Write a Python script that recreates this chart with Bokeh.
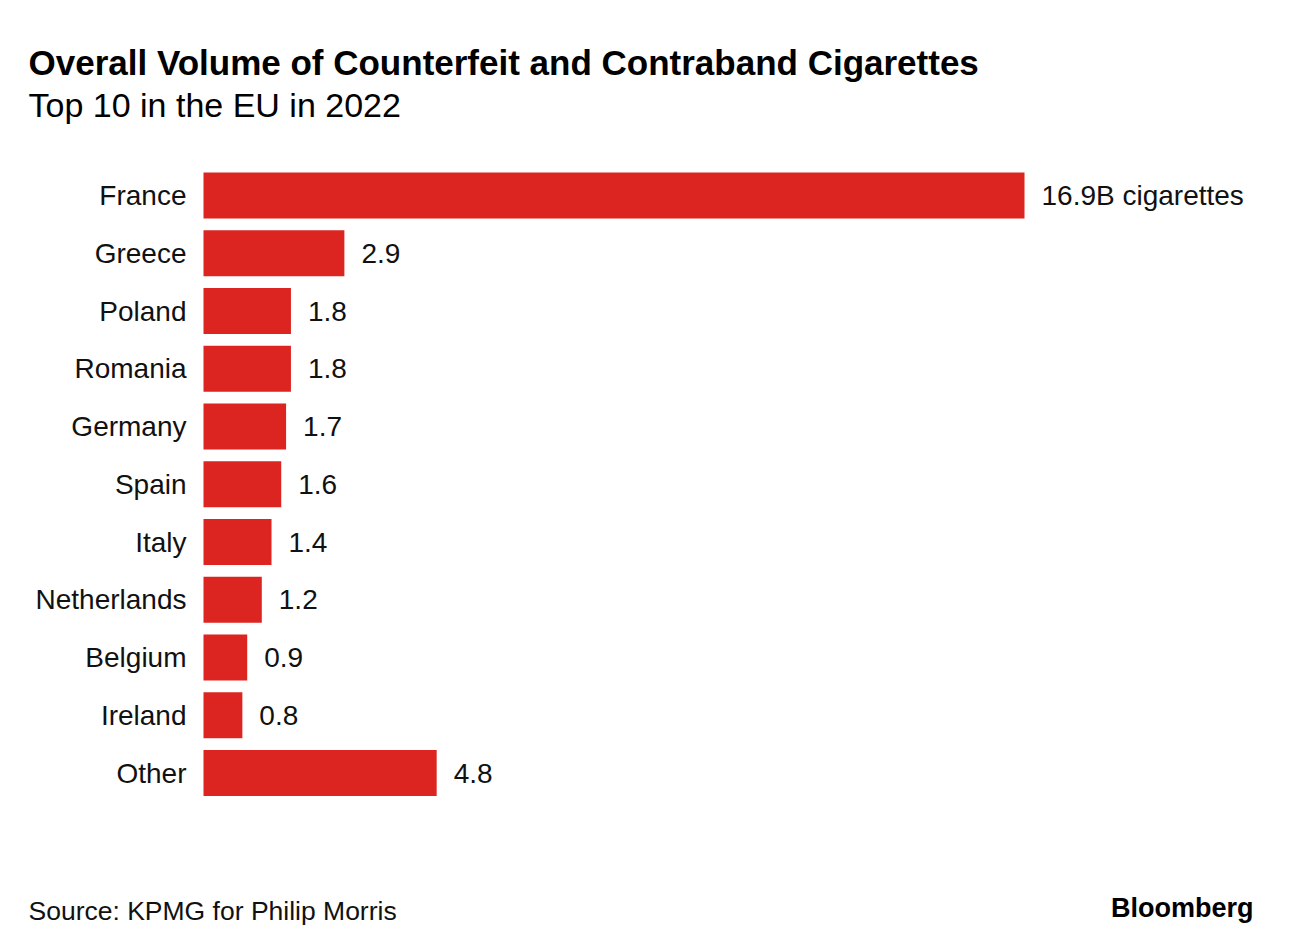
from bokeh.plotting import figure
from bokeh.models import ColumnDataSource, Range1d, Label
from bokeh.core.properties import value
from bokeh.embed import file_html
from bokeh.resources import INLINE

# Counterfeit and contraband cigarette volume, billions, 2022
countries = ["France", "Greece", "Poland", "Romania", "Germany", "Spain",
             "Italy", "Netherlands", "Belgium", "Ireland", "Other"]
volumes = [16.9, 2.9, 1.8, 1.8, 1.7, 1.6, 1.4, 1.2, 0.9, 0.8, 4.8]
value_labels = ["16.9B cigarettes", "2.9", "1.8", "1.8", "1.7", "1.6",
                "1.4", "1.2", "0.9", "0.8", "4.8"]

title_text = "Overall Volume of Counterfeit and Contraband Cigarettes"
subtitle_text = "Top 10 in the EU in 2022"
source_text = "Source: KPMG for Philip Morris"

W, H = 1293, 952
BAR_RED = "#dc2520"
FONT = "Liberation Sans"

# one row per country, France on top
rows = list(range(len(countries)))
src = ColumnDataSource(dict(row=rows, vol=volumes, name=countries, lab=value_labels))

# ranges chosen so the frame spans the whole page: value 0 sits at x=203px,
# rows are 57.75px apart starting at y=196px
px_per_unit = 821 / 16.9
x_range = Range1d(-203 / px_per_unit, (W - 203) / px_per_unit)
pitch = 57.75
y_range = Range1d((H - 195) / pitch, -195 / pitch)

p = figure(width=W, height=H, x_range=x_range, y_range=y_range,
           output_backend="svg", toolbar_location=None,
           x_axis_location=None, y_axis_location=None,
           min_border=0, outline_line_color=None,
           background_fill_color="white", border_fill_color="white")
p.grid.visible = False

p.hbar(y="row", left=0, right="vol", height=0.8, source=src,
       fill_color=BAR_RED, line_color=None)

p.text(x=0, y="row", text="name", source=src, x_offset=-17,
       text_align="right", text_baseline="middle",
       text_font=value(FONT), text_font_size="28px", text_color="#111111")

p.text(x="vol", y="row", text="lab", source=src, x_offset=17,
       text_align="left", text_baseline="middle",
       text_font=value(FONT), text_font_size="28px", text_color="#111111")

p.add_layout(Label(x=28, y=H - 62, x_units="screen", y_units="screen",
                   text=title_text, text_font=FONT, text_font_style="bold",
                   text_font_size="35px", text_color="#000000",
                   text_baseline="alphabetic"))
p.add_layout(Label(x=28, y=H - 104, x_units="screen", y_units="screen",
                   text=subtitle_text, text_font=FONT,
                   text_font_size="34px", text_color="#000000",
                   text_baseline="alphabetic"))
p.add_layout(Label(x=28, y=H - 910, x_units="screen", y_units="screen",
                   text=source_text, text_font=FONT,
                   text_font_size="26.5px", text_color="#111111",
                   text_baseline="alphabetic"))
p.add_layout(Label(x=1253, y=H - 907, x_units="screen", y_units="screen",
                   text="Bloomberg", text_font=FONT, text_font_style="bold",
                   text_font_size="27px", text_color="#000000",
                   text_align="right", text_baseline="alphabetic"))

open("out.html", "w").write(file_html(p, INLINE))
